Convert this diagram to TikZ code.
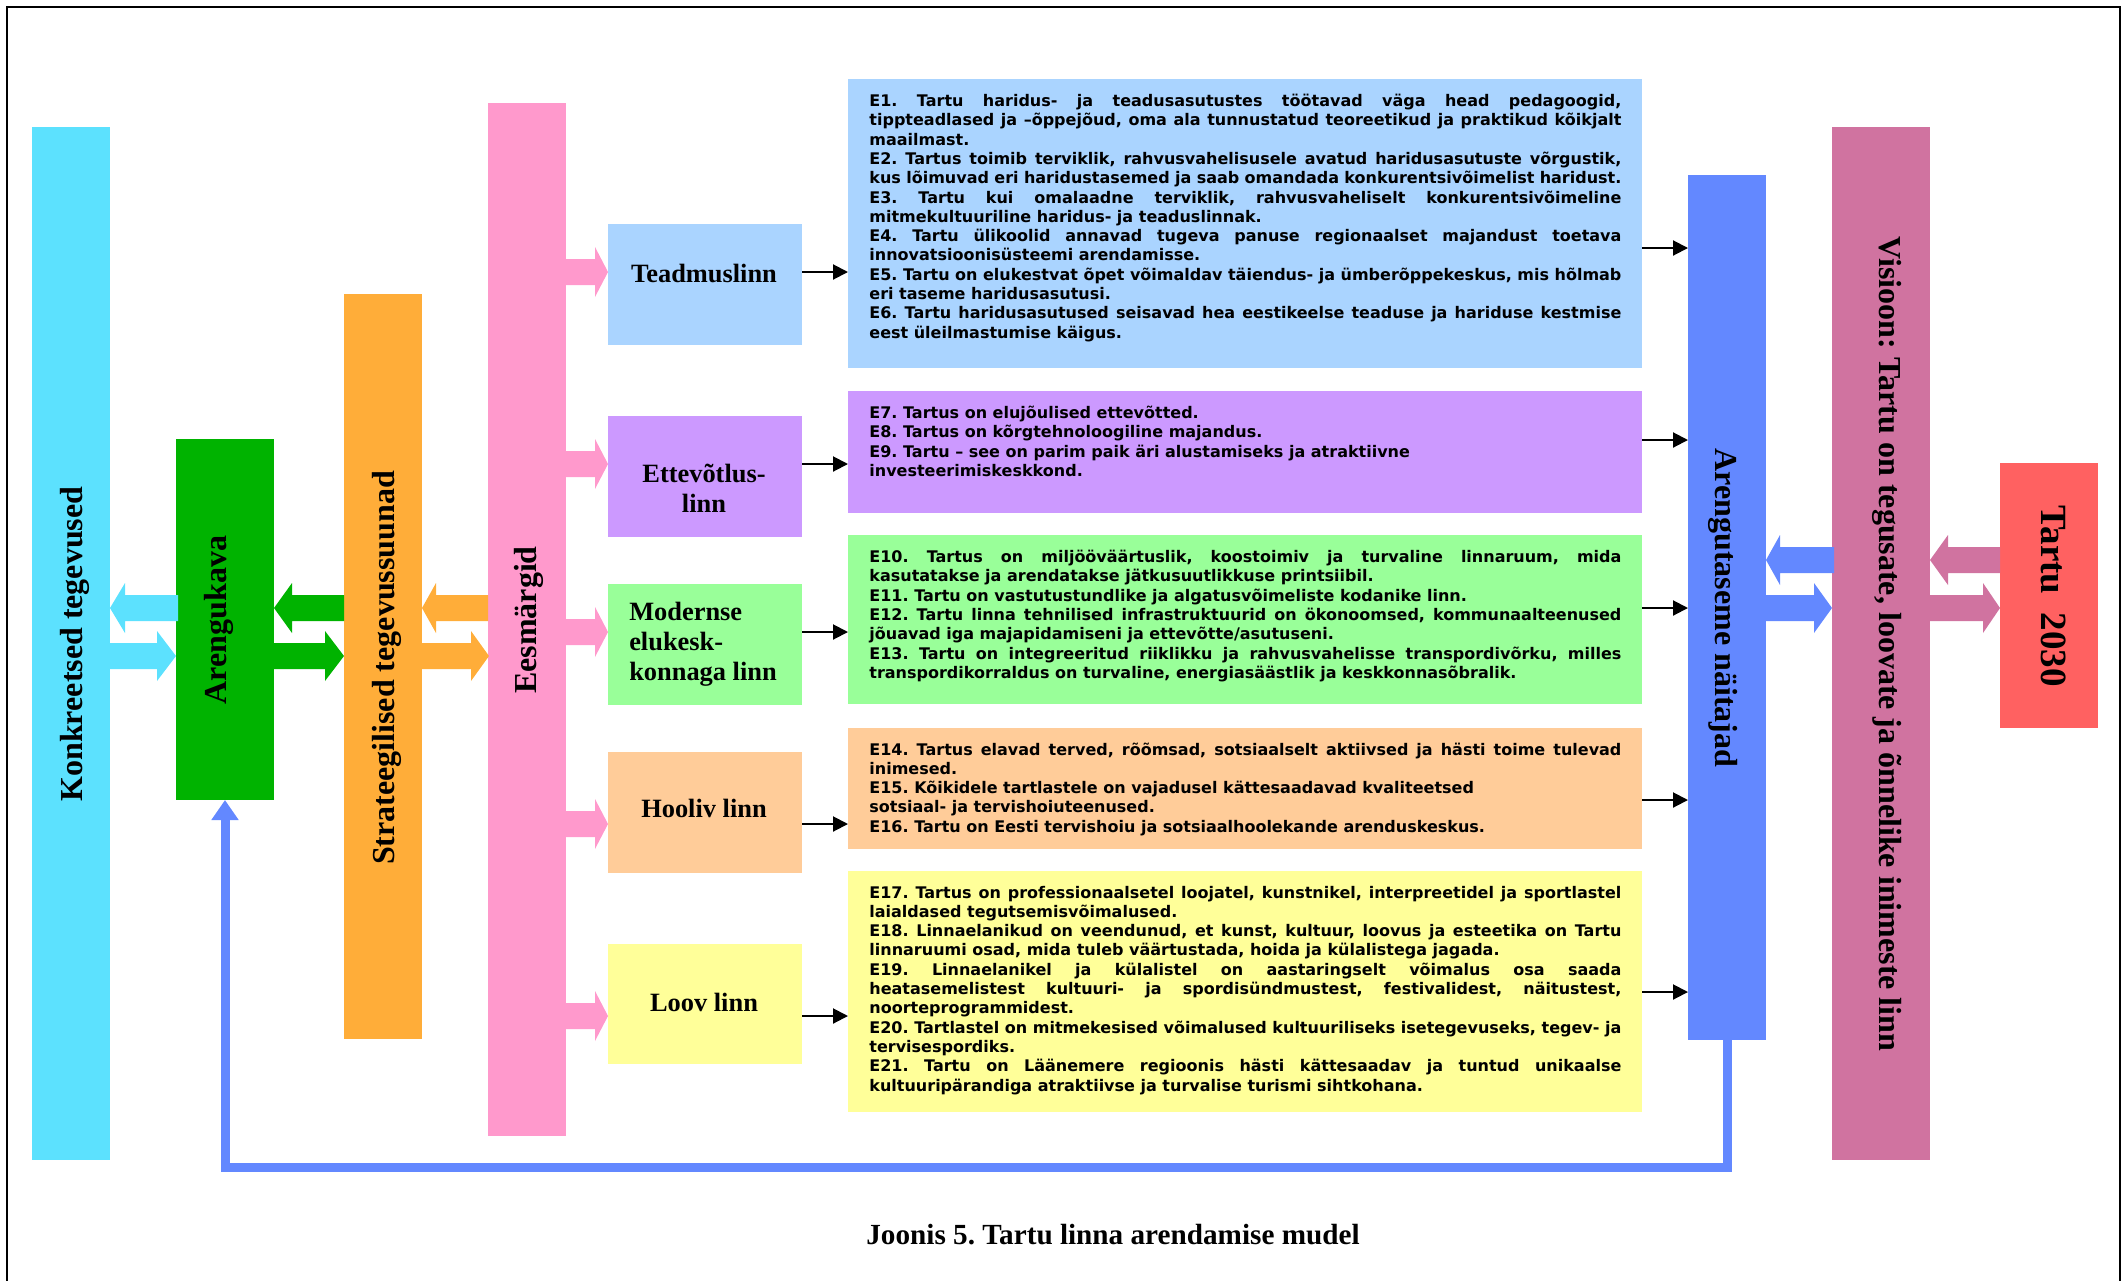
\documentclass[tikz,border=0pt]{standalone}
\usepackage{fontspec}
\setmainfont{Liberation Serif}
\newfontfamily\efont{DejaVu Sans}
\usetikzlibrary{arrows.meta,fit}
\frenchspacing
\definecolor{cKon}{HTML}{5CE1FE}
\definecolor{cAren}{HTML}{00B300}
\definecolor{cStrat}{HTML}{FFAD39}
\definecolor{cEes}{HTML}{FF99CC}
\definecolor{cTea}{HTML}{AAD4FF}
\definecolor{cEtt}{HTML}{CC99FF}
\definecolor{cMod}{HTML}{99FF99}
\definecolor{cHoo}{HTML}{FFCC99}
\definecolor{cLoo}{HTML}{FFFF99}
\definecolor{cNai}{HTML}{6388FF}
\definecolor{cVis}{HTML}{D073A0}
\definecolor{cTar}{HTML}{FF6161}
\newcommand\cstack[1]{\vtop{\baselineskip=15pt\halign{\hfil##\hfil\cr#1\crcr}}}
\newcommand\lstack[1]{\vtop{\baselineskip=15pt\halign{##\hfil\cr#1\crcr}}}
\newcommand\J[1]{\hbox to\hsize{#1}}
\newcommand\R[1]{\hbox{#1}}
% block arrow pointing right: from x #1 to tip x #2 at y #3, colour #4, head length #5
\newcommand\bAR[5]{\fill[#4] (#1,#3-13) -- (#2-#5,#3-13) -- (#2-#5,#3-25) -- (#2,#3) -- (#2-#5,#3+25) -- (#2-#5,#3+13) -- (#1,#3+13) -- cycle;}
% block arrow pointing left
\newcommand\bAL[5]{\fill[#4] (#1,#3-13) -- (#2+#5,#3-13) -- (#2+#5,#3-25) -- (#2,#3) -- (#2+#5,#3+25) -- (#2+#5,#3+13) -- (#1,#3+13) -- cycle;}
\begin{document}
\frenchspacing
\begin{tikzpicture}[x=0.5pt,y=-0.5pt,
  col/.style={inner sep=0pt, outer sep=0pt},
  ttl/.style={font=\fontsize{16}{19}\selectfont\bfseries, inner sep=0pt},
  city/.style={font=\fontsize{13.2}{15}\selectfont\bfseries, inner sep=0pt, anchor=base},
  blk/.style={line width=1pt, -{Triangle[length=7.5pt,width=7.5pt]}},
  loopc/.style={line width=4.5pt, draw=cNai, line join=miter, -{Triangle[length=10pt,width=13pt]}},
  etext/.style={inner sep=0pt, anchor=base west, font=\efont\bfseries\fontsize{8}{9.65}\selectfont\frenchspacing}]
\useasboundingbox (0,0) rectangle (2125,1280);
\draw[line width=1.2pt] (7,7) rectangle (2120,1300);

% columns
\node[col, fill=cKon, fit={(32,127)(110,1160)}] (konk) {};
\node[col, fill=cAren, fit={(176,439)(274,800)}] (aren) {};
\node[col, fill=cStrat, fit={(344,294)(422,1039)}] (strat) {};
\node[col, fill=cEes, fit={(488,103)(566,1136)}] (ees) {};
\node[col, fill=cNai, fit={(1688,175)(1766,1040)}] (nai) {};
\node[col, fill=cVis, fit={(1832,127)(1930,1160)}] (vis) {};
\node[col, fill=cTar, fit={(2000,463)(2098,728)}] (tar) {};

% city boxes
\node[col, fill=cTea, fit={(608,223.5)(802,344.5)}] (teaB) {};
\node[col, fill=cEtt, fit={(608,415.5)(802,537)}] (ettB) {};
\node[col, fill=cMod, fit={(608,583.5)(802,704.5)}] (modB) {};
\node[col, fill=cHoo, fit={(608,751.5)(802,872.5)}] (hooB) {};
\node[col, fill=cLoo, fit={(608,943.5)(802,1064)}] (looB) {};

% goal boxes
\node[col, fill=cTea, fit={(848,79)(1642,368)}] (e1) {};
\node[col, fill=cEtt, fit={(848,391)(1642,512.5)}] (e7) {};
\node[col, fill=cMod, fit={(848,535)(1642,704)}] (e10) {};
\node[col, fill=cHoo, fit={(848,727.5)(1642,848.5)}] (e14) {};
\node[col, fill=cLoo, fit={(848,870.5)(1642,1112)}] (e17) {};

% block arrows, left part
\bAL{178}{110}{608}{cKon}{15}
\bAR{110}{176}{656}{cKon}{19}
\bAL{344}{274}{608}{cAren}{18}
\bAR{274}{344}{656}{cAren}{19}
\bAL{488}{422}{608}{cStrat}{14}
\bAR{422}{489}{656}{cStrat}{18}
% pink arrows to city boxes
\bAR{566}{608}{272}{cEes}{13}
\bAR{566}{608}{464}{cEes}{13}
\bAR{566}{608}{632}{cEes}{13}
\bAR{566}{608}{824}{cEes}{13}
\bAR{566}{608}{1016}{cEes}{13}
% block arrows, right part
\bAL{1834}{1766}{560}{cNai}{14}
\bAR{1766}{1832}{608}{cNai}{18}
\bAL{2000}{1930}{560}{cVis}{18}
\bAR{1930}{2000}{608}{cVis}{17}

% black connectors
\draw[blk] (teaB.east |- 0,272) -- (e1.west |- 0,272);
\draw[blk] (ettB.east |- 0,464) -- (e7.west |- 0,464);
\draw[blk] (modB.east |- 0,632) -- (e10.west |- 0,632);
\draw[blk] (hooB.east |- 0,824) -- (e14.west |- 0,824);
\draw[blk] (looB.east |- 0,1016) -- (e17.west |- 0,1016);
\draw[blk] (e1.east |- 0,248) -- (nai.west |- 0,248);
\draw[blk] (e7.east |- 0,440) -- (nai.west |- 0,440);
\draw[blk] (e10.east |- 0,608) -- (nai.west |- 0,608);
\draw[blk] (e14.east |- 0,800) -- (nai.west |- 0,800);
\draw[blk] (e17.east |- 0,992) -- (nai.west |- 0,992);

% feedback loop
\draw[loopc] (nai.south) -- ++(0,127) -| (aren.south);

% column labels
\node[ttl, rotate=90] (konkT) at (75,644) {Konkreetsed tegevused};
\node[ttl, rotate=90] (arenT) at (219,620) {Arengukava};
\node[ttl, rotate=90] (stratT) at (387,668) {Strateegilised tegevussuunad};
\node[ttl, rotate=90] (eesT) at (529,620) {Eesmärgid};
\node[ttl, rotate=-90] (naiT) at (1723,608) {Arengutaseme näitajad};
\node[ttl, rotate=-90] (visT) at (1887,644) {Visioon: Tartu on tegusate, loovate ja õnnelike inimeste linn};
\node[ttl, rotate=-90, font=\fontsize{18.5}{22}\selectfont\bfseries] (tarT) at (2054,596) {Tartu\ \ 2030};

% city labels
\node[city] (teaT) at (704,282) {Teadmuslinn};
\node[city] (ettT) at (704,482) {\cstack{Ettevõtlus-\cr linn}};
\node[city] (modT) at (703,620) {\lstack{Modernse\cr elukesk-\cr konnaga linn}};
\node[city] (hooT) at (704,817) {Hooliv linn};
\node[city] (looT) at (704,1011) {Loov linn};

% goal texts
\node[etext] (e1T) at (869,106.5) {\vtop{\hsize=376pt
\J{E1. Tartu haridus- ja teadusasutustes töötavad väga head pedagoogid,}
\J{tippteadlased ja –õppejõud, oma ala tunnustatud teoreetikud ja praktikud kõikjalt}
\R{maailmast.}
\J{E2. Tartus toimib terviklik, rahvusvahelisusele avatud haridusasutuste võrgustik,}
\J{kus lõimuvad eri haridustasemed ja saab omandada konkurentsivõimelist haridust.}
\J{E3. Tartu kui omalaadne terviklik, rahvusvaheliselt konkurentsivõimeline}
\R{mitmekultuuriline haridus- ja teaduslinnak.}
\J{E4. Tartu ülikoolid annavad tugeva panuse regionaalset majandust toetava}
\R{innovatsioonisüsteemi arendamisse.}
\J{E5. Tartu on elukestvat õpet võimaldav täiendus- ja ümberõppekeskus, mis hõlmab}
\R{eri taseme haridusasutusi.}
\J{E6. Tartu haridusasutused seisavad hea eestikeelse teaduse ja hariduse kestmise}
\R{eest üleilmastumise käigus.}}};
\node[etext] (e7T) at (869,418.5) {\vtop{\hsize=376pt
\R{E7. Tartus on elujõulised ettevõtted.}
\R{E8. Tartus on kõrgtehnoloogiline majandus.}
\R{E9. Tartu – see on parim paik äri alustamiseks ja atraktiivne}
\R{investeerimiskeskkond.}}};
\node[etext] (e10T) at (869,562.5) {\vtop{\hsize=376pt
\J{E10. Tartus on miljööväärtuslik, koostoimiv ja turvaline linnaruum, mida}
\R{kasutatakse ja arendatakse jätkusuutlikkuse printsiibil.}
\R{E11. Tartu on vastutustundlike ja algatusvõimeliste kodanike linn.}
\J{E12. Tartu linna tehnilised infrastruktuurid on ökonoomsed, kommunaalteenused}
\R{jõuavad iga majapidamiseni ja ettevõtte/asutuseni.}
\J{E13. Tartu on integreeritud riiklikku ja rahvusvahelisse transpordivõrku, milles}
\R{transpordikorraldus on turvaline, energiasäästlik ja keskkonnasõbralik.}}};
\node[etext] (e14T) at (869,755) {\vtop{\hsize=376pt
\J{E14. Tartus elavad terved, rõõmsad, sotsiaalselt aktiivsed ja hästi toime tulevad}
\R{inimesed.}
\R{E15. Kõikidele tartlastele on vajadusel kättesaadavad kvaliteetsed}
\R{sotsiaal- ja tervishoiuteenused.}
\R{E16. Tartu on Eesti tervishoiu ja sotsiaalhoolekande arenduskeskus.}}};
\node[etext] (e17T) at (869,898) {\vtop{\hsize=376pt
\J{E17. Tartus on professionaalsetel loojatel, kunstnikel, interpreetidel ja sportlastel}
\R{laialdased tegutsemisvõimalused.}
\J{E18. Linnaelanikud on veendunud, et kunst, kultuur, loovus ja esteetika on Tartu}
\R{linnaruumi osad, mida tuleb väärtustada, hoida ja külalistega jagada.}
\J{E19. Linnaelanikel ja külalistel on aastaringselt võimalus osa saada}
\J{heatasemelistest kultuuri- ja spordisündmustest, festivalidest, näitustest,}
\R{noorteprogrammidest.}
\J{E20. Tartlastel on mitmekesised võimalused kultuuriliseks isetegevuseks, tegev- ja}
\R{tervisespordiks.}
\J{E21. Tartu on Läänemere regioonis hästi kättesaadav ja tuntud unikaalse}
\R{kultuuripärandiga atraktiivse ja turvalise turismi sihtkohana.}}};

% caption
\node[font=\fontsize{14.6}{17}\selectfont\bfseries\frenchspacing, inner sep=0pt] (cap) at (1113,1235) {Joonis 5. Tartu linna arendamise mudel};
\end{tikzpicture}
\end{document}
